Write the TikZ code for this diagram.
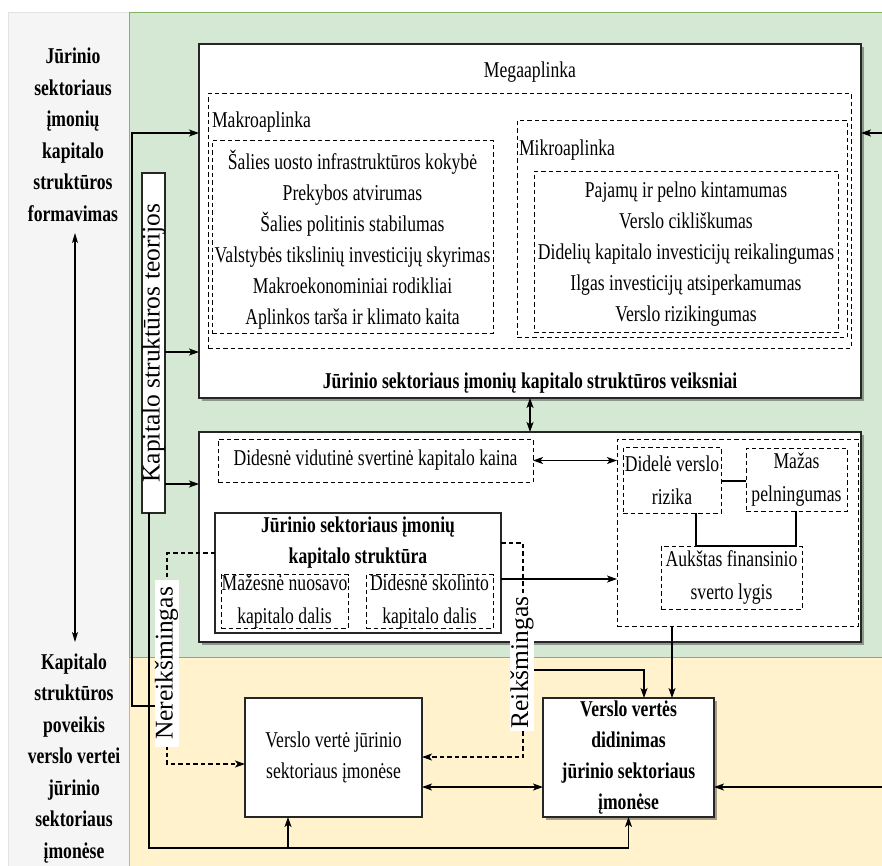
\documentclass[tikz,border=0pt]{standalone}
\usepackage{fontspec}
\setmainfont{Liberation Serif}[FakeStretch=0.78]
\newfontfamily\uprightserif{Liberation Serif}
\usetikzlibrary{arrows.meta,shadows}

\definecolor{sidegray}{HTML}{F5F5F5}
\definecolor{sidegrayline}{HTML}{E2E2E2}
\definecolor{envgreen}{HTML}{D5E8D4}
\definecolor{envgreenline}{HTML}{82B366}
\definecolor{valyellow}{HTML}{FFF2CC}
\definecolor{valyellowline}{HTML}{D6B656}

\tikzset{
  every node/.style={inner sep=0pt, outer sep=0pt},
  basefont/.style={font=\fontsize{22.6}{31}\selectfont},
  midfont/.style={font=\fontsize{22.6}{33}\selectfont},
  boldfont/.style={font=\fontsize{22.6}{31}\selectfont\bfseries},
  sidefont/.style={font=\fontsize{22.6}{31.5}\selectfont\bfseries},
  rotfont/.style={font=\uprightserif\fontsize{25.5}{30}\selectfont, text height=17pt, text depth=5pt},
  solidbox/.style={draw=black!85, line width=1.2pt, fill=white},
  shadowed/.style={drop shadow={shadow xshift=2.5pt, shadow yshift=-2.5pt, opacity=0.35, fill=black}},
  dashbox/.style={draw=black, line width=1pt, dash pattern=on 4.5pt off 3pt},
  conn/.style={line width=1.1pt, draw=black},
  tip/.tip={Stealth[length=10pt,width=7pt,inset=2.5pt]},
  arr/.style={conn, -tip},
  dblarr/.style={conn, tip-tip},
  dasharr/.style={conn, -tip, dash pattern=on 4.5pt off 3pt},
  sidelabel/.style={rotate=90, fill=white, rotfont, inner ysep=1pt},
}

\begin{document}
\begin{tikzpicture}[x=1pt,y=-1pt]
\useasboundingbox (0,0) rectangle (882,865);
\clip (0,0) rectangle (882,865);

% background panels
\draw[sidegrayline, fill=sidegray] (8,12) rectangle (129,875);
\draw[valyellowline, fill=valyellow] (129,657) rectangle (895,880);
\draw[envgreenline, fill=envgreen] (129,12) rectangle (895,657);

% side headings
\node[sidefont, align=center] (lefttop) at (73,135)
  {Jūrinio\\sektoriaus\\įmonių\\kapitalo\\struktūros\\formavimas};
\node[sidefont, align=center] (leftbot) at (74,758.5)
  {Kapitalo\\struktūros\\poveikis\\verslo vertei\\jūrinio\\sektoriaus\\įmonėse};
\coordinate (lup) at (75,233);
\coordinate (ldown) at (75,642);
\draw[conn, {Stealth[length=10pt,width=6pt,inset=2.5pt]}-{Stealth[length=10pt,width=6pt,inset=2.5pt]}] (lup) -- (ldown);

% factors box
\node[solidbox, shadowed, minimum width=662pt, minimum height=354pt] (box1) at (530,221) {};
\node[basefont] (megat) at (530,72) {Megaaplinka};
\node[dashbox, minimum width=643pt, minimum height=255pt] (mega) at (529.5,220.5) {};
\node[basefont, anchor=west] (makrot) at (212,122) {Makroaplinka};
\node[dashbox, minimum width=281pt, minimum height=193pt] (makro) at (352.5,236.5) {};
\node[basefont, align=center] (makrol) at (352.5,239.5)
  {Šalies uosto infrastruktūros kokybė\\Prekybos atvirumas\\Šalies politinis stabilumas\\%
   Valstybės tikslinių investicijų skyrimas\\Makroekonominiai rodikliai\\Aplinkos tarša ir klimato kaita};
\node[dashbox, minimum width=330pt, minimum height=217pt] (mikro) at (682,228.5) {};
\node[basefont, anchor=west] (mikrot) at (519,150) {Mikroaplinka};
\node[dashbox, minimum width=304pt, minimum height=161pt] (mikroin) at (686,251.5) {};
\node[basefont, align=center] (mikrol) at (686,254)
  {Pajamų ir pelno kintamumas\\Verslo cikliškumas\\Didelių kapitalo investicijų reikalingumas\\%
   Ilgas investicijų atsiperkamumas\\Verslo rizikingumas};
\node[boldfont] (title1) at (530,383) {Jūrinio sektoriaus įmonių kapitalo struktūros veiksniai};

% capital structure box
\node[solidbox, shadowed, minimum width=662pt, minimum height=210pt] (box2) at (530,537) {};
\node[dashbox, basefont, minimum width=315pt, minimum height=43pt] (wacc) at (375.5,460.5)
  {Didesnė vidutinė svertinė kapitalo kaina};
\node[dashbox, minimum width=241pt, minimum height=187pt] (grp) at (737.5,532.5) {};
\node[dashbox, midfont, align=center, minimum width=98pt, minimum height=66pt] (didel) at (672,480)
  {Didelė verslo\\rizika};
\node[dashbox, midfont, align=center, minimum width=101pt, minimum height=63pt] (mazas) at (796.5,479.5)
  {Mažas\\pelningumas};
\node[dashbox, midfont, align=center, minimum width=141pt, minimum height=63pt] (aukst) at (731.5,577.5)
  {Aukštas finansinio\\sverto lygis};
\node[solidbox, minimum width=286pt, minimum height=120pt] (ks) at (358,573) {};
\node[boldfont, align=center] (kst) at (358,542.5) {Jūrinio sektoriaus įmonių\\kapitalo struktūra};
\node[dashbox, midfont, align=center, minimum width=127pt, minimum height=51pt] (nuos) at (284.5,601.5)
  {Mažesnė nuosavo\\kapitalo dalis};
\node[dashbox, midfont, align=center, minimum width=127pt, minimum height=51pt] (skol) at (429.5,601.5)
  {Didesnė skolinto\\kapitalo dalis};

% business value boxes
\node[solidbox, basefont, align=center, minimum width=177pt, minimum height=119pt] (vv) at (333.5,757.5)
  {Verslo vertė jūrinio\\sektoriaus įmonėse};
\node[solidbox, shadowed, boldfont, align=center, minimum width=171pt, minimum height=119pt] (didin) at (628.5,757.5)
  {Verslo vertės\\didinimas\\jūrinio sektoriaus\\įmonėse};

% theories box
\node[solidbox, rotate=90, rotfont, minimum width=340pt, minimum height=23pt] (teo) at (153.5,343)
  {Kapitalo struktūros teorijos};

% connectors
\draw[arr] (teo.south |- 0,352) -- (box1.west |- 0,352);
\draw[arr] (teo.south |- 0,484) -- (box2.west |- 0,484);
\draw[arr] (teo.west -| 149,0) -- (149,848) -- (628.5,848) -- (didin.south);
\coordinate (rail) at (288,848);
\draw[arr] (rail) -- (vv.south -| rail);
\draw[dblarr] (box1.south) -- (box2.north);
\draw[dblarr] (wacc.east) -- (grp.west |- wacc.east);
\draw[arr] (ks.east |- 0,579) -- (grp.west |- 0,579);
\draw[conn] (didel.east |- 0,481) -- (mazas.west |- 0,481);
\draw[conn] (didel.south -| 696,0) -- (696,546);
\draw[conn] (mazas.south -| 796,0) -- (796,546) -- (696,546);
\draw[arr] (grp.south -| 672,0) -- (didin.north -| 672,0);
\draw[dblarr] (vv.east |- 0,787) -- (didin.west |- 0,787);
\coordinate (rin1) at (882,133);
\coordinate (rin2) at (882,787);
\draw[arr] (rin1) -- (box1.east |- rin1);
\draw[arr] (rin2) -- (didin.east |- rin2);

% significance paths
\draw[dasharr] (ks.west |- 0,553) -- (167,553) -- (167,764) -- (vv.west |- 0,764);
\draw[dasharr] (ks.east |- 0,543) -- (523,543) -- (523,757) -- (vv.east |- 0,757);
\node[sidelabel, inner xsep=7pt] (ner) at (166.5,663.5) {Nereikšmingas};
\node[sidelabel, inner xsep=3pt] (rei) at (522,662.5) {Reikšmingas};
\draw[arr] (ner.north |- 0,706) -- (132,706) -- (132,133) -- (box1.west |- 0,133);
\draw[arr] (rei.south |- 0,670) -- (644,670) -- (didin.north -| 644,0);
\end{tikzpicture}
\end{document}
